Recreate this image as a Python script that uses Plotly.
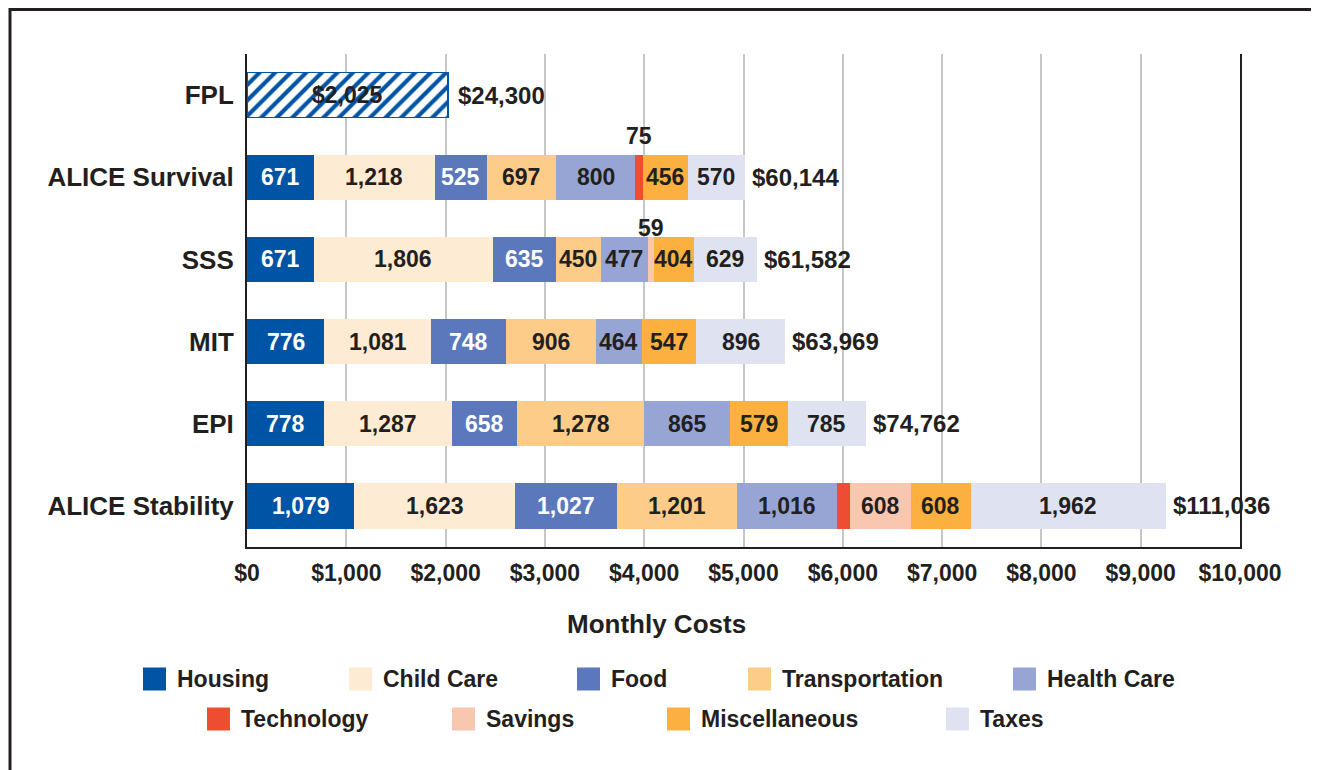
import numpy as np
import plotly.graph_objects as go

# rows (top to bottom)
rows = ["FPL", "ALICE Survival", "SSS", "MIT", "EPI", "ALICE Stability"]
budget_rows = rows[1:]

# monthly costs per budget row
categories = ["Housing", "Child Care", "Food", "Transportation", "Health Care",
              "Technology", "Savings", "Miscellaneous", "Taxes"]
housing = [671, 671, 776, 778, 1079]
child_care = [1218, 1806, 1081, 1287, 1623]
food = [525, 635, 748, 658, 1027]
transportation = [697, 450, 906, 1278, 1201]
health_care = [800, 477, 464, 865, 1016]
technology = [75, 0, 0, 0, 129]
savings = [0, 59, 0, 0, 608]
miscellaneous = [456, 404, 547, 579, 608]
taxes = [570, 629, 896, 785, 1962]
annual_totals = ["$60,144", "$61,582", "$63,969", "$74,762", "$111,036"]

fpl_monthly = 2025
fpl_annual = "$24,300"

x_ticks = list(range(0, 10001, 1000))
x_tick_labels = ["$0", "$1,000", "$2,000", "$3,000", "$4,000", "$5,000",
                 "$6,000", "$7,000", "$8,000", "$9,000", "$10,000"]

series = [housing, child_care, food, transportation, health_care,
          technology, savings, miscellaneous, taxes]
colors = ["#0054a6", "#fdebd3", "#5b78bd", "#fdcc88", "#97a5d4",
          "#ef4d31", "#f9c6b0", "#fbb03f", "#dfe2f1"]
white_text = {"Housing", "Food"}
label_above = {("Technology", "ALICE Survival"): 41, ("Savings", "SSS"): 31}
no_label = {("Technology", "ALICE Stability")}

DARK = "#231f20"
FONT = "Liberation Sans"

# page offset (body margin) and plot area in screen pixels
OFF = 8
W, H = 1311, 762
L, R, T, B = 247, 1240, 54, 547


def px_x(px):
    return (px - L) / (R - L)


def px_y(py):
    return (B - py) / (B - T)


fig = go.Figure()

# FPL hatched bar
fig.add_trace(go.Bar(
    y=["FPL"], x=[fpl_monthly], orientation="h", showlegend=False,
    marker=dict(color="white", line=dict(color="#0054a6", width=1.5),
                pattern=dict(shape="/", fgcolor="#0054a6", bgcolor="white",
                             fgopacity=1, size=11, solidity=0.38)),
    hoverinfo="skip",
))

for name, vals, col in zip(categories, series, colors):
    fig.add_trace(go.Bar(
        y=budget_rows, x=vals, orientation="h", name=name,
        marker=dict(color=col, line=dict(width=0)), showlegend=False,
    ))

annotations = []
bold = dict(family=FONT, weight="bold", color=DARK)

# segment labels
data = np.array(series)
starts = np.vstack([np.zeros(len(budget_rows)), np.cumsum(data, axis=0)[:-1]])
for i, name in enumerate(categories):
    for j, row in enumerate(budget_rows):
        v = data[i, j]
        if v == 0 or (name, row) in no_label:
            continue
        mid = starts[i, j] + v / 2
        shift = label_above.get((name, row), 0)
        color = "white" if name in white_text and not shift else DARK
        annotations.append(dict(
            x=mid, y=row, xref="x", yref="y", text=f"{v:,}", showarrow=False,
            yshift=shift, yanchor="middle", font=dict(bold, size=23, color=color),
        ))

# totals
row_sums = data.sum(axis=0)
for row, s, label in zip(budget_rows, row_sums, annual_totals):
    annotations.append(dict(
        x=s, y=row, xref="x", yref="y", text=label, showarrow=False,
        xanchor="left", yanchor="middle", xshift=5, font=dict(bold, size=24),
    ))
annotations.append(dict(
    x=fpl_monthly / 2, y="FPL", xref="x", yref="y", text=f"${fpl_monthly:,}",
    showarrow=False, yanchor="middle", font=dict(bold, size=23),
))
annotations.append(dict(
    x=fpl_monthly, y="FPL", xref="x", yref="y", text=fpl_annual,
    showarrow=False, xanchor="left", yanchor="middle", xshift=8,
    font=dict(bold, size=24),
))

# axis title
annotations.append(dict(
    x=px_x(656), y=px_y(624), xref="paper", yref="paper", text="Monthly Costs",
    showarrow=False, yanchor="middle", font=dict(bold, size=26),
))

# manual legend (two centred rows)
legend_pos = [(143, 679), (349, 679), (577, 679), (748, 679), (1013, 679),
              (207, 719), (452, 719), (667, 719), (946, 719)]
shapes = []
for name, col, (lx, ly) in zip(categories, colors, legend_pos):
    shapes.append(dict(
        type="rect", xref="paper", yref="paper",
        x0=px_x(lx), x1=px_x(lx + 23), y0=px_y(ly - 11.5), y1=px_y(ly + 11.5),
        fillcolor=col, line=dict(width=0),
    ))
    annotations.append(dict(
        x=px_x(lx + 32), y=px_y(ly), xref="paper", yref="paper", text=name,
        showarrow=False, xanchor="left", yanchor="middle",
        font=dict(bold, size=23),
    ))

# outer frame
shapes.append(dict(
    type="rect", xref="paper", yref="paper",
    x0=px_x(10), x1=px_x(1340), y0=px_y(800), y1=px_y(9.5),
    line=dict(color=DARK, width=3), fillcolor="rgba(0,0,0,0)", layer="below",
))

fig.update_layout(
    width=W, height=H,
    margin=dict(l=L - OFF, r=W - (R - OFF), t=T - OFF, b=H - (B - OFF)),
    barmode="stack", bargap=0.45,
    paper_bgcolor="white", plot_bgcolor="white",
    font=dict(family=FONT, color=DARK),
    annotations=annotations, shapes=shapes, showlegend=False,
)
fig.update_xaxes(
    range=[0, 10000], tickmode="array", tickvals=x_ticks, ticktext=x_tick_labels,
    showgrid=True, gridcolor="#c6c6c6", gridwidth=2,
    showline=True, linecolor=DARK, linewidth=2, ticks="",
    ticklabelstandoff=4, tickfont=dict(bold, size=23), zeroline=False,
)
fig.update_yaxes(
    categoryorder="array", categoryarray=rows, autorange="reversed",
    showline=True, mirror=True, linecolor=DARK, linewidth=2, ticks="",
    ticklabelstandoff=6, tickfont=dict(bold, size=26), showgrid=False,
)

fig.write_html("out.html")
